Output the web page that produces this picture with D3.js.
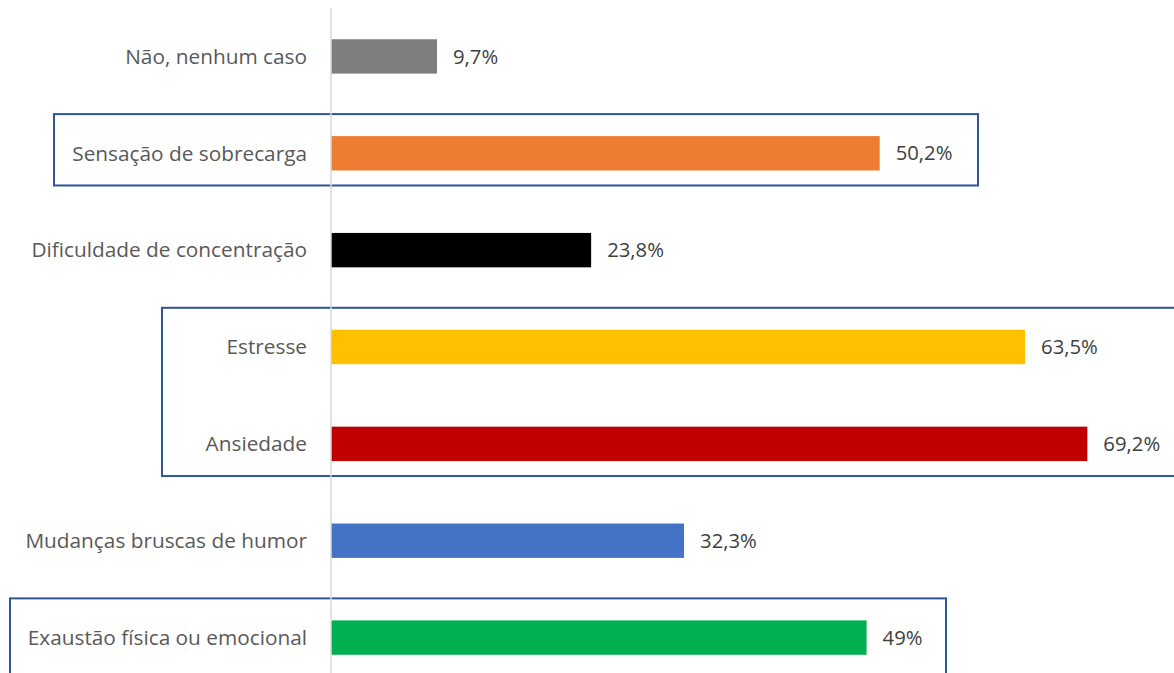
<!DOCTYPE html>
<html>
<head>
<meta charset="utf-8">
<script src="https://cdnjs.cloudflare.com/ajax/libs/d3/7.8.5/d3.min.js"></script>
<style>
  body { margin: 0; background: #fff; }
  svg { display: block; }
</style>
</head>
<body>
<div id="chart-area"></div>
<script>

// Categories, top to bottom
var categories = [
    "Não, nenhum caso",
    "Sensação de sobrecarga",
    "Dificuldade de concentração",
    "Estresse",
    "Ansiedade",
    "Mudanças bruscas de humor",
    "Exaustão física ou emocional"
];

// Percentages
var values = [9.7, 50.2, 23.8, 63.5, 69.2, 32.3, 49];

// Value labels as shown
var valueLabels = ["9,7%", "50,2%", "23,8%", "63,5%", "69,2%", "32,3%", "49%"];

// Bar colours
var barColors = ["#7f7f7f", "#ed7d31", "#000000", "#ffc000", "#c00000", "#4472c4", "#00b050"];

// Highlighted groups (outlined boxes)
var highlightGroups = [
    ["Sensação de sobrecarga"],
    ["Estresse", "Ansiedade"],
    ["Exaustão física ou emocional"]
];

var width = 1174, height = 673;

var svg = d3.select("#chart-area").append("svg")
    .attr("width", width)
    .attr("height", height);

var x = d3.scaleLinear()
    .domain([0, 100])
    .range([331, 331 + 1093]);

var y = d3.scaleBand()
    .domain(categories)
    .range([8, 686])
    .paddingInner(0.645)
    .paddingOuter(0.3225);

var data = categories.map(function(c, i){
    return { cat: c, value: values[i], label: valueLabels[i], color: barColors[i] };
});

var lastCat = categories[categories.length - 1];

// highlight boxes (x extents are layout only)
var boxX = [[54, 978], [162, 1180], [10, 946]];
highlightGroups.forEach(function(g, i){
    var top = d3.min(g, function(c){ return y(c); }) - 22;
    var bottom = d3.max(g, function(c){ return y(c) + y.bandwidth(); }) + 15;
    if (g.indexOf(lastCat) >= 0) bottom = height + 5;   // runs off the bottom
    svg.append("rect")
        .attr("x", boxX[i][0])
        .attr("y", top)
        .attr("width", boxX[i][1] - boxX[i][0])
        .attr("height", bottom - top)
        .attr("fill", "none")
        .attr("stroke", "#2f5597")
        .attr("stroke-width", 2);
});

// bars
svg.selectAll(".bar").data(data).enter().append("rect")
    .attr("class", "bar")
    .attr("x", x(0))
    .attr("y", function(d){ return y(d.cat); })
    .attr("width", function(d){ return x(d.value) - x(0); })
    .attr("height", y.bandwidth())
    .attr("fill", function(d){ return d.color; });

// vertical axis line
svg.append("line")
    .attr("x1", x(0)).attr("x2", x(0))
    .attr("y1", 8).attr("y2", height)
    .attr("stroke", "#d9d9d9")
    .attr("stroke-width", 1.5);

// category labels
svg.selectAll(".cat-label").data(data).enter().append("text")
    .attr("class", "cat-label")
    .attr("x", 307)
    .attr("y", function(d){ return y(d.cat) + y.bandwidth() / 2; })
    .attr("dy", "0.35em")
    .attr("text-anchor", "end")
    .attr("fill", "#595959")
    .style("font-family", "'Open Sans', sans-serif")
    .style("font-size", "20.8px")
    .text(function(d){ return d.cat; });

// value labels
svg.selectAll(".val-label").data(data).enter().append("text")
    .attr("class", "val-label")
    .attr("x", function(d){ return x(d.value) + 16; })
    .attr("y", function(d){ return y(d.cat) + y.bandwidth() / 2; })
    .attr("dy", "0.35em")
    .attr("fill", "#404040")
    .style("font-family", "'Open Sans', sans-serif")
    .style("font-size", "20.3px")
    .text(function(d){ return d.label; });

</script>
</body>
</html>
